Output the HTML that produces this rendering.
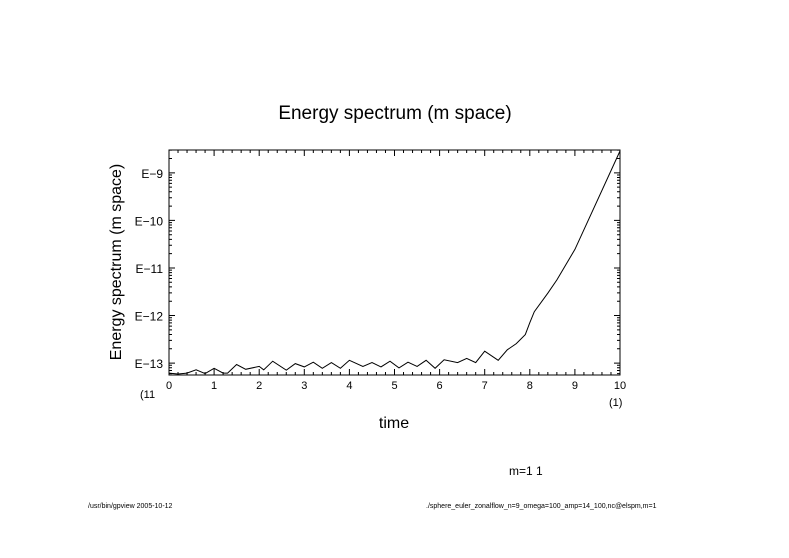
<!DOCTYPE html>
<html><head><meta charset="utf-8"><style>
body{margin:0;background:#fff;}
svg{display:block;font-family:"Liberation Sans",sans-serif;}
</style></head><body>
<svg id="chart" width="789" height="558" viewBox="0 0 789 558">
<text x="395" y="119" font-size="19" text-anchor="middle">Energy spectrum (m space)</text>
<text x="394" y="428" font-size="16" text-anchor="middle">time</text>
<text transform="translate(121,262) rotate(-90)" font-size="16" text-anchor="middle">Energy spectrum (m space)</text>
<text x="140" y="398" font-size="11">(11</text>
<text x="609" y="406" font-size="11">(1)</text>
<text x="509" y="475" font-size="12">m=1 1</text>
<text x="88" y="508" font-size="7">/usr/bin/gpview  2005-10-12</text>
<text x="426" y="508" font-size="7">./sphere_euler_zonalflow_n=9_omega=100_amp=14_100,nc@elspm,m=1</text>
<g id="axes"></g>
<g id="series"></g>
</svg>
<script>
const times=[0,0.2,0.4,0.6,0.8,1.0,1.2,1.3,1.5,1.7,2.0,2.1,2.3,2.6,2.8,3.0,3.2,3.4,3.6,3.8,4.0,4.3,4.5,4.7,4.9,5.1,5.3,5.5,5.7,5.9,6.1,6.4,6.6,6.8,7.0,7.3,7.5,7.7,7.9,8.0,8.1,8.4,8.6,9.0,10.0];
const logEnergy=[-13.21,-13.23,-13.21,-13.14,-13.22,-13.11,-13.21,-13.21,-13.03,-13.13,-13.07,-13.14,-12.96,-13.15,-13.01,-13.08,-12.98,-13.11,-12.99,-13.11,-12.94,-13.07,-12.99,-13.08,-12.96,-13.10,-12.98,-13.07,-12.94,-13.11,-12.93,-12.99,-12.90,-12.99,-12.75,-12.94,-12.72,-12.59,-12.40,-12.15,-11.92,-11.53,-11.25,-10.61,-8.54];
const xTicks=[0,1,2,3,4,5,6,7,8,9,10];
const yTicks=[-9,-10,-11,-12,-13];
const yTickLabels=["E−9","E−10","E−11","E−12","E−13"];
const L=169,R=620,T=150,B=375,xMin=0,xMax=10,yMin=-13.25,yMax=-8.52;
const X=v=>L+(v-xMin)/(xMax-xMin)*(R-L);
const Y=v=>B-(v-yMin)/(yMax-yMin)*(B-T);
const NS="http://www.w3.org/2000/svg";
const ax=document.getElementById('axes');
function mk(tag,attrs,parent){const e=document.createElementNS(NS,tag);for(const k in attrs)e.setAttribute(k,attrs[k]);parent.appendChild(e);return e;}
const frame=mk('rect',{x:L,y:T,width:R-L,height:B-T,fill:'none',stroke:'#000','stroke-width':1},ax);


let d='';
for(let i=0;i<=50;i++){const v=i*0.2;const x=X(v);const len=(i%5===0)?6:3;d+=`M${x} ${B}v${-len}M${x} ${T}v${len}`;}
for(let k=-14;k<=-9;k++){for(let m=1;m<=9;m++){const v=k+Math.log10(m);if(v<yMin||v>yMax)continue;const y=Y(v);const len=(m===1)?6:3;d+=`M${L} ${y}h${len}M${R} ${y}h${-len}`;}}
const ticks=mk('path',{d:d,stroke:'#000','stroke-width':1,fill:'none'},ax);


xTicks.forEach(v=>{const t=mk('text',{x:X(v),y:B+14,'font-size':11,'text-anchor':'middle'},ax);t.textContent=v;

});
yTicks.forEach((v,i)=>{const t=mk('text',{x:L-6,y:Y(v)+5,'font-size':12,'text-anchor':'end'},ax);t.textContent=yTickLabels[i];

});
const pts=times.map((t,i)=>X(t).toFixed(1)+','+Y(logEnergy[i]).toFixed(1)).join(' ');
const line=mk('polyline',{points:pts,fill:'none',stroke:'#000','stroke-width':1},document.getElementById('series'));


</script>
</body></html>
